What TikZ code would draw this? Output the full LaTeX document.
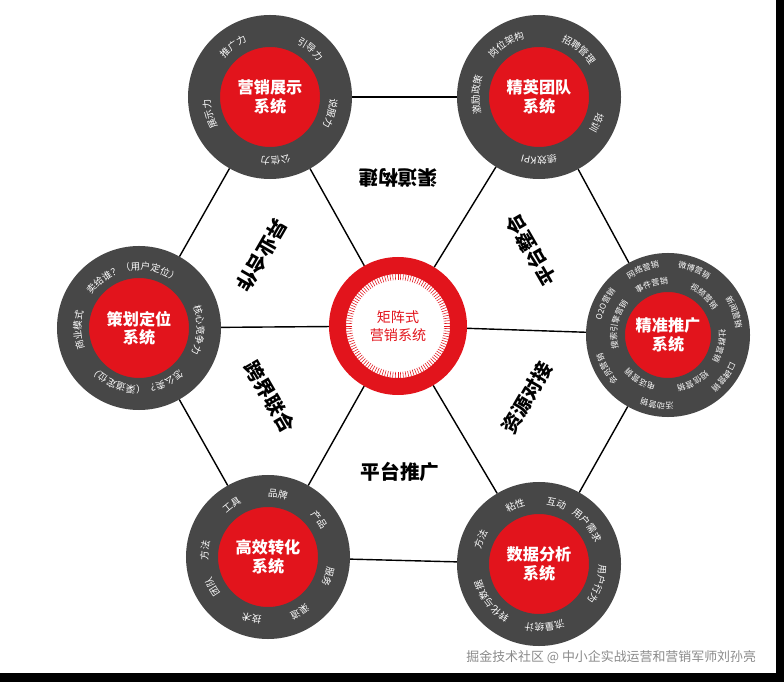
\documentclass[tikz,border=0pt]{standalone}
\usepackage{fontspec}
\setmainfont{Noto Sans CJK SC}
\usetikzlibrary{decorations.text,backgrounds}
\definecolor{ringgray}{HTML}{474747}
\definecolor{hexred}{HTML}{E2141C}
\definecolor{markgray}{HTML}{8A8A8A}
\newcommand\subfont{\fontsize{6.8}{7}\selectfont}
\newcommand\tinyfont{\fontsize{5.8}{6}\selectfont}

\begin{document}
\begin{tikzpicture}[
  sys/.style={circle, fill=hexred, draw=ringgray, line width=0.8cm, minimum size=3.3cm, inner sep=0pt, text=white, align=center, font=\fontsize{11.5}{13}\selectfont\bfseries},
  theme/.style={font=\fontsize{14}{14}\selectfont\bfseries},
  link/.style={line width=1pt},
  sub/.style={decorate, decoration={text along path, text={|\subfont|#1}, text align=center, text color=white}},
  subs/.style={decorate, decoration={text along path, text={|\tinyfont|#1}, text align=center, text color=white}}]

\useasboundingbox (0,0) rectangle (19.6,17.05);
\fill[black] (19.4,0) rectangle (19.6,17.05);
\fill[black] (0,0) rectangle (19.6,0.225);

\node[circle, fill=white, draw=hexred, line width=0.425cm, minimum size=3.025cm, align=center, text=hexred, font=\fontsize{10}{13}\selectfont](core) at (9.95,8.9){矩阵式\\营销系统};
\foreach \t in {0,3,...,357}
  \draw[hexred, line width=0.4pt] ([shift={(\t:1.15)}]core.center) -- ([shift={(\t:1.3)}]core.center);

\node[sys](show) at (6.75,14.625){营销展示\\系统};
\node[sys](team) at (13.475,14.625){精英团队\\系统};
\node[sys](plan) at (3.475,8.85){策划定位\\系统};
\node[sys, line width=0.975cm, minimum size=3.125cm](promo) at (16.7,8.675){精准推广\\系统};
\node[sys](conv) at (6.7,3.125){高效转化\\系统};
\node[sys](data) at (13.475,2.95){数据分析\\系统};

\begin{pgfonlayer}{background}
\draw[link](show)--(team);
\draw[link](team)--(promo);
\draw[link](promo)--(data);
\draw[link](data)--(conv);
\draw[link](conv)--(plan);
\draw[link](plan)--(show);
\draw[link](core)--(show);
\draw[link](core)--(team);
\draw[link](core)--(promo);
\draw[link](core)--(data);
\draw[link](core)--(conv);
\draw[link](core)--(plan);
\end{pgfonlayer}

\node[theme, rotate=180](t1) at (9.95,12.6){渠道构建};
\node[theme, rotate=120](t2) at (13.275,10.8){平台整合};
\node[theme, rotate=60](t3) at (13.175,7.1){资源对接};
\node[theme](t4) at (10.0,5.25){平台推广};
\node[theme, rotate=-60](t5) at (6.75,7.125){跨界联合};
\node[theme, rotate=-120](t6) at (6.55,10.675){异业合作};

\path[sub=推广力]([shift={(176:1.5)}]show.center) arc[start angle=176, end angle=76, radius=1.5];
\path[sub=引导力]([shift={(100:1.5)}]show.center) arc[start angle=100, end angle=0, radius=1.5];
\path[sub=说服力]([shift={(35:1.5)}]show.center) arc[start angle=35, end angle=-65, radius=1.5];
\path[sub=公信力]([shift={(-35:1.5)}]show.center) arc[start angle=-35, end angle=-135, radius=1.5];
\path[sub=展示力]([shift={(246:1.5)}]show.center) arc[start angle=246, end angle=146, radius=1.5];

\path[sub=岗位架构]([shift={(172:1.5)}]team.center) arc[start angle=172, end angle=72, radius=1.5];
\path[sub=招聘管理]([shift={(100:1.5)}]team.center) arc[start angle=100, end angle=0, radius=1.5];
\path[sub=培训]([shift={(26:1.5)}]team.center) arc[start angle=26, end angle=-74, radius=1.5];
\path[sub=绩效KPI]([shift={(-40:1.5)}]team.center) arc[start angle=-40, end angle=-140, radius=1.5];
\path[sub=激励政策]([shift={(228:1.5)}]team.center) arc[start angle=228, end angle=128, radius=1.5];

\path[sub=卖给谁？（用户定位）]([shift={(188:1.45)}]plan.center) arc[start angle=188, end angle=8, radius=1.45];
\path[sub=核心竞争力]([shift={(48:1.45)}]plan.center) arc[start angle=48, end angle=-52, radius=1.45];
\path[sub=怎么卖？（渠道定位）]([shift={(-3:1.45)}]plan.center) arc[start angle=-3, end angle=-183, radius=1.45];
\path[sub=商业模式]([shift={(232:1.45)}]plan.center) arc[start angle=232, end angle=132, radius=1.45];

\path[subs=网络营销]([shift={(161:1.7)}]promo.center) arc[start angle=161, end angle=61, radius=1.7];
\path[subs=微博营销]([shift={(118:1.7)}]promo.center) arc[start angle=118, end angle=18, radius=1.7];
\path[subs=新闻营销]([shift={(69:1.7)}]promo.center) arc[start angle=69, end angle=-31, radius=1.7];
\path[subs=口碑营销]([shift={(13:1.7)}]promo.center) arc[start angle=13, end angle=-87, radius=1.7];
\path[subs=活动营销]([shift={(-49:1.7)}]promo.center) arc[start angle=-49, end angle=-149, radius=1.7];
\path[subs=会员营销]([shift={(-101:1.7)}]promo.center) arc[start angle=-101, end angle=-201, radius=1.7];
\path[subs=O2O营销]([shift={(204:1.7)}]promo.center) arc[start angle=204, end angle=104, radius=1.7];
\path[subs=事件营销]([shift={(158:1.28)}]promo.center) arc[start angle=158, end angle=58, radius=1.28];
\path[subs=视频营销]([shift={(97:1.28)}]promo.center) arc[start angle=97, end angle=-3, radius=1.28];
\path[subs=社群营销]([shift={(38:1.28)}]promo.center) arc[start angle=38, end angle=-62, radius=1.28];
\path[subs=短信营销]([shift={(-12:1.28)}]promo.center) arc[start angle=-12, end angle=-112, radius=1.28];
\path[subs=电话营销]([shift={(-72:1.28)}]promo.center) arc[start angle=-72, end angle=-172, radius=1.28];
\path[subs=搜索引擎营销]([shift={(228:1.28)}]promo.center) arc[start angle=228, end angle=108, radius=1.28];

\path[sub=品牌]([shift={(131:1.5)}]conv.center) arc[start angle=131, end angle=31, radius=1.5];
\path[sub=工具]([shift={(175:1.5)}]conv.center) arc[start angle=175, end angle=75, radius=1.5];
\path[sub=产品]([shift={(86:1.5)}]conv.center) arc[start angle=86, end angle=-14, radius=1.5];
\path[sub=方法]([shift={(224:1.5)}]conv.center) arc[start angle=224, end angle=124, radius=1.5];
\path[sub=服务]([shift={(32:1.5)}]conv.center) arc[start angle=32, end angle=-68, radius=1.5];
\path[sub=团队]([shift={(-102:1.5)}]conv.center) arc[start angle=-102, end angle=-202, radius=1.5];
\path[sub=渠道]([shift={(-10:1.5)}]conv.center) arc[start angle=-10, end angle=-110, radius=1.5];
\path[sub=技术]([shift={(-55:1.5)}]conv.center) arc[start angle=-55, end angle=-155, radius=1.5];

\path[sub=粘性]([shift={(162:1.5)}]data.center) arc[start angle=162, end angle=62, radius=1.5];
\path[sub=互动]([shift={(124:1.5)}]data.center) arc[start angle=124, end angle=24, radius=1.5];
\path[sub=用户需求]([shift={(89:1.5)}]data.center) arc[start angle=89, end angle=-11, radius=1.5];
\path[sub=用户行为]([shift={(31:1.5)}]data.center) arc[start angle=31, end angle=-69, radius=1.5];
\path[sub=流量统计]([shift={(-35:1.5)}]data.center) arc[start angle=-35, end angle=-135, radius=1.5];
\path[sub=转化与数据]([shift={(-92:1.5)}]data.center) arc[start angle=-92, end angle=-192, radius=1.5];
\path[sub=方法]([shift={(207:1.5)}]data.center) arc[start angle=207, end angle=107, radius=1.5];

\node[text=markgray, font=\fontsize{9.2}{10}\selectfont](mark) at (15.28,0.62){掘金技术社区 @ 中小企实战运营和营销军师刘孙亮};
\end{tikzpicture}
\end{document}
